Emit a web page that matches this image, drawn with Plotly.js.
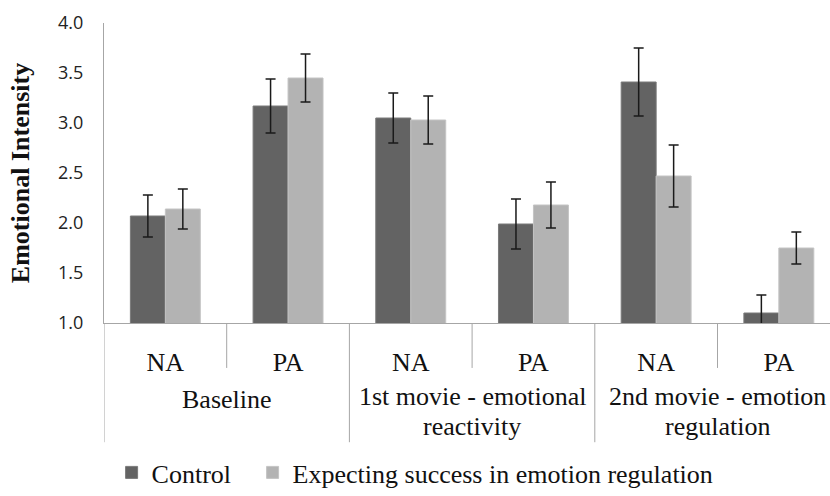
<!DOCTYPE html>
<html>
<head>
<meta charset="utf-8">
<script src="https://cdn.plot.ly/plotly-3.0.1.min.js"></script>
<style>html,body{margin:0;padding:0;background:#fff;}#chart{width:830px;height:496px;}</style>
</head>
<body>
<div id="chart"></div>
<script>
// ---- data ----
var categories = ["Baseline NA", "Baseline PA", "1st NA", "1st PA", "2nd NA", "2nd PA"];
var subLabels = ["NA", "PA", "NA", "PA", "NA", "PA"];
var groupLabels = [["Baseline"], ["1st movie - emotional", "reactivity"], ["2nd movie - emotion", "regulation"]];
var seriesNames = ["Control", "Expecting success in emotion regulation"];
var controlValues = [2.07, 3.17, 3.05, 1.99, 3.41, 1.10];
var controlErrors = [0.21, 0.27, 0.25, 0.25, 0.34, 0.18];
var expectValues = [2.14, 3.45, 3.03, 2.18, 2.47, 1.75];
var expectErrors = [0.20, 0.24, 0.24, 0.23, 0.31, 0.16];
var yTicks = [1.0, 1.5, 2.0, 2.5, 3.0, 3.5, 4.0];
var yTitle = "Emotional Intensity";

// ---- layout constants ----
var plotTop = 23, plotBottom = 330, plotH = plotBottom - plotTop;
function py(p) { return (plotBottom - p) / plotH; }
function px(p) { return (p - 104) / 726; }

var serif = "Liberation Serif, Times New Roman, serif";

var traces = [
  {
    type: "bar", name: seriesNames[0], x: categories, y: controlValues, legend: "legend",
    marker: {color: "#636363", line: {color: "#7a7a7a", width: 1}},
    error_y: {type: "data", array: controlErrors, visible: true, color: "#1a1a1a", thickness: 1.5, width: 5},
    hoverinfo: "x+y"
  },
  {
    type: "bar", name: seriesNames[1], x: categories, y: expectValues, legend: "legend2",
    marker: {color: "#b3b3b3", line: {color: "#c4c4c4", width: 1}},
    error_y: {type: "data", array: expectErrors, visible: true, color: "#1a1a1a", thickness: 1.5, width: 5},
    hoverinfo: "x+y"
  }
];

var shapes = [];
var annotations = [];
var n = categories.length;
var perGroup = n / groupLabels.length;
for (var i = 0; i < n; i++) {
  var xpos = i - 0.5;
  var isGroup = (i % perGroup === 0);
  shapes.push({
    type: "line", xref: "x", yref: "paper",
    x0: xpos, x1: xpos, y0: 0, y1: isGroup ? py(452) : py(376),
    line: {color: "#a6a6a6", width: 1}
  });
}
for (var g = 0; g < groupLabels.length; g++) {
  var cx = g * perGroup + (perGroup - 1) / 2;
  var lines = groupLabels[g];
  for (var k = 0; k < lines.length; k++) {
    var yy = lines.length === 1 ? 408 : (k === 0 ? 405 : 436);
    annotations.push({
      xref: "x", yref: "paper", x: cx, y: py(yy),
      text: lines[k], showarrow: false, xanchor: "center", yanchor: "middle",
      borderpad: 0,
      font: {family: serif, size: 26, color: "#111"}
    });
  }
}

var legendBase = {
  orientation: "h", xanchor: "left", y: py(483), yanchor: "middle",
  font: {family: serif, size: 26, color: "#111"},
  itemwidth: 30, bgcolor: "rgba(0,0,0,0)"
};
var legend1 = Object.assign({}, legendBase, {x: px(111.6)});
var legend2 = Object.assign({}, legendBase, {x: px(252.6)});

var layout = {
  width: 830, height: 496,
  margin: {l: 104, r: 0, t: plotTop, b: 496 - plotBottom, pad: 0},
  paper_bgcolor: "#ffffff", plot_bgcolor: "#ffffff",
  barmode: "group", bargap: 0.43, bargroupgap: 0,
  showlegend: true,
  legend: legend1,
  legend2: legend2,
  xaxis: {
    type: "category", range: [-0.5, -0.5 + 726 / 122.7],
    tickvals: categories, ticktext: subLabels,
    showline: true, linecolor: "#a6a6a6", linewidth: 1,
    ticks: "outside", ticklen: 16, tickcolor: "rgba(0,0,0,0)",
    tickfont: {family: serif, size: 26, color: "#111"},
    showgrid: false, zeroline: false, automargin: false, fixedrange: true
  },
  yaxis: {
    range: [1, 4], tickvals: yTicks, ticktext: yTicks.map(function (v) { return v.toFixed(1); }),
    showline: true, linecolor: "#a6a6a6", linewidth: 1,
    ticks: "outside", ticklen: 16, tickcolor: "rgba(0,0,0,0)",
    tickfont: {family: "Open Sans, Liberation Sans, sans-serif", size: 18, color: "#222"},
    showgrid: false, zeroline: false, automargin: false, fixedrange: true,
    title: {text: yTitle, standoff: 20, font: {family: serif, size: 26, color: "#111", weight: "bold"}}
  },
  shapes: shapes,
  annotations: annotations
};

Plotly.newPlot("chart", traces, layout, {displayModeBar: false, staticPlot: true});
</script>
</body>
</html>
